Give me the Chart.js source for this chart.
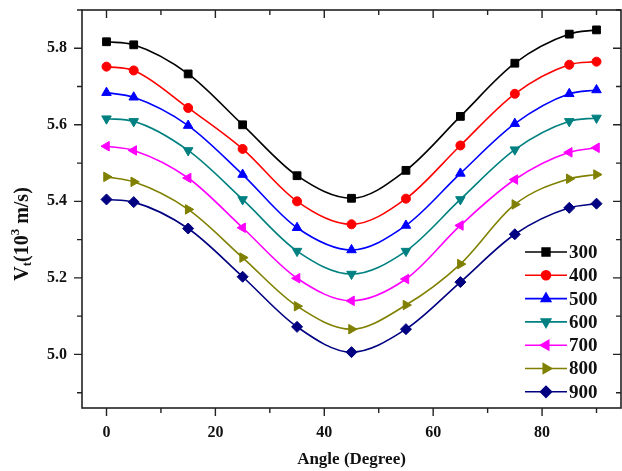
<!DOCTYPE html>
<html>
<head>
<meta charset="utf-8">
<script src="https://cdn.jsdelivr.net/npm/chart.js@4"></script>
<style>
  html, body { margin: 0; padding: 0; background: #fff; overflow: hidden; }
  #wrap { width: 622px; height: 471px; position: relative; }
  canvas { display: block; }
</style>
</head>
<body>
<div id="wrap"><canvas id="chart"></canvas></div>
<script>
// angle of the points (degree)
const angles = [0, 5, 15, 25, 35, 45, 55, 65, 75, 85, 90];
const temps = ["300", "400", "500", "600", "700", "800", "900"];

// Vt values (10^3 m/s), one array for each temperature
const v300 = [5.817, 5.809, 5.733, 5.600, 5.467, 5.408, 5.481, 5.622, 5.761, 5.837, 5.848];
const v400 = [5.752, 5.742, 5.644, 5.537, 5.400, 5.340, 5.407, 5.546, 5.681, 5.757, 5.765];
const v500 = [5.684, 5.672, 5.598, 5.470, 5.331, 5.273, 5.337, 5.473, 5.603, 5.681, 5.691];
const v600 = [5.616, 5.609, 5.533, 5.405, 5.270, 5.210, 5.270, 5.405, 5.535, 5.609, 5.618];
const v700 = [5.544, 5.533, 5.461, 5.331, 5.199, 5.140, 5.197, 5.337, 5.457, 5.528, 5.540];
const v800 = [5.464, 5.451, 5.379, 5.253, 5.126, 5.066, 5.129, 5.236, 5.392, 5.459, 5.470];
const v900 = [5.405, 5.398, 5.329, 5.203, 5.072, 5.006, 5.066, 5.189, 5.314, 5.383, 5.394];
const allValues = [v300, v400, v500, v600, v700, v800, v900];

// tick values
const xMajor = [0, 20, 40, 60, 80];
const xMinor = [10, 30, 50, 70, 90];
const yMajor = [5.0, 5.2, 5.4, 5.6, 5.8];
const yMinor = [4.9, 5.1, 5.3, 5.5, 5.7, 5.9];

const colors = ["#000000", "#ff0000", "#0000ff", "#008080", "#ff00ff", "#808000", "#000080"];
const styles = [
  { pointStyle: "rect", rotation: 0, radius: 5.5 },
  { pointStyle: "circle", rotation: 0, radius: 4.5 },
  { pointStyle: "triangle", rotation: 0, radius: 5.5 },
  { pointStyle: "triangle", rotation: 180, radius: 5.5 },
  { pointStyle: "triangle", rotation: -90, radius: 5.5 },
  { pointStyle: "triangle", rotation: 90, radius: 5.5 },
  { pointStyle: "rectRot", rotation: 0, radius: 5.5 }
];
const serif = "'Liberation Serif', 'Times New Roman', serif";

const datasets = temps.map((t, i) => ({
  label: t,
  data: angles.map((a, j) => ({ x: a, y: allValues[i][j] })),
  borderColor: colors[i],
  backgroundColor: colors[i],
  borderWidth: 1.6,
  pointStyle: styles[i].pointStyle,
  pointRotation: styles[i].rotation,
  pointRadius: styles[i].radius,
  pointBorderWidth: 1,
  cubicInterpolationMode: "monotone",
  fill: false
}));

function makeTicks(major, minor){
  return [...major, ...minor].sort((a, b) => a - b).map(v => ({ value: v, major: major.includes(v) }));
}

// frame + Origin style ticks: outward on left/bottom, inward on top/right
const framePlugin = {
  id: "frame",
  afterDraw(chart){
    const ctx = chart.ctx;
    const {left, right, top, bottom} = chart.chartArea;
    const xs = chart.scales.x, ys = chart.scales.y;
    ctx.save();
    ctx.strokeStyle = "#222";
    ctx.lineWidth = 1.6;
    ctx.strokeRect(left, top, right - left, bottom - top);
    ctx.lineWidth = 1.4;
    ctx.beginPath();
    makeTicks(xMajor, xMinor).forEach(t => {
      const px = xs.getPixelForValue(t.value);
      const len = t.major ? 8 : 5;
      ctx.moveTo(px, bottom); ctx.lineTo(px, bottom + len);
      ctx.moveTo(px, top); ctx.lineTo(px, top + len);
    });
    makeTicks(yMajor, yMinor).forEach(t => {
      const py = ys.getPixelForValue(t.value);
      const len = t.major ? 8 : 5;
      ctx.moveTo(left, py); ctx.lineTo(left - len, py);
      ctx.moveTo(right, py); ctx.lineTo(right - len, py);
    });
    ctx.stroke();
    ctx.restore();
  }
};

// y title with subscript and superscript
const yTitlePlugin = {
  id: "yTitle",
  afterDraw(chart){
    const ctx = chart.ctx;
    const parts = [
      { text: "V", size: 20, dy: 0 },
      { text: "t", size: 13, dy: 5 },
      { text: "(10", size: 20, dy: 0 },
      { text: "3", size: 13, dy: -7 },
      { text: " m/s)", size: 20, dy: 0 }
    ];
    ctx.save();
    ctx.translate(23, 234);
    ctx.rotate(-Math.PI / 2);
    ctx.fillStyle = "#111";
    ctx.textBaseline = "middle";
    let w = 0;
    parts.forEach(p => { ctx.font = "bold " + p.size + "px " + serif; p.w = ctx.measureText(p.text).width; w += p.w; });
    let x = -w / 2;
    parts.forEach(p => {
      ctx.font = "bold " + p.size + "px " + serif;
      ctx.fillText(p.text, x, p.dy);
      x += p.w;
    });
    ctx.restore();
  }
};

// legend drawn as line + marker + label
const legendPlugin = {
  id: "lineLegend",
  afterDraw(chart){
    const ctx = chart.ctx;
    ctx.save();
    chart.data.datasets.forEach((ds, i) => {
      const y = 252 + i * 23.3;
      ctx.strokeStyle = ds.borderColor;
      ctx.lineWidth = 1.6;
      ctx.beginPath();
      ctx.moveTo(525, y); ctx.lineTo(567, y);
      ctx.stroke();
      ctx.fillStyle = ds.backgroundColor;
      Chart.helpers.drawPoint(ctx, {
        pointStyle: ds.pointStyle, rotation: ds.pointRotation,
        radius: ds.pointRadius, borderWidth: 1
      }, 546, y);
      ctx.fillStyle = "#111";
      ctx.font = "bold 19px " + serif;
      ctx.textBaseline = "middle";
      ctx.fillText(ds.label, 569, y + 1);
    });
    ctx.restore();
  }
};

new Chart(document.getElementById("chart"), {
  type: "line",
  data: { datasets },
  plugins: [framePlugin, yTitlePlugin, legendPlugin],
  options: {
    responsive: true,
    maintainAspectRatio: false,
    animation: false,
    layout: { autoPadding: false, padding: { left: 0, top: 10, right: 1, bottom: 0 } },
    plugins: { legend: { display: false }, tooltip: { enabled: false } },
    scales: {
      x: {
        type: "linear",
        min: -4.5,
        max: 94.5,
        afterBuildTicks: s => { s.ticks = makeTicks(xMajor, xMinor); },
        afterFit: s => { s.height = 63; s.paddingLeft = 0; s.paddingRight = 0; },
        grid: { display: false, drawTicks: false },
        border: { display: false },
        ticks: {
          autoSkip: false, maxRotation: 0, padding: 15, color: "#111",
          font: { family: serif, size: 16, weight: "bold" },
          callback: v => xMajor.includes(v) ? String(v) : ""
        },
        title: {
          display: true, text: "Angle (Degree)", color: "#111",
          font: { family: serif, size: 17, weight: "bold" },
          padding: { top: 0, bottom: 1 }
        }
      },
      y: {
        type: "linear",
        min: 4.86,
        max: 5.9,
        afterBuildTicks: s => { s.ticks = makeTicks(yMajor, yMinor); },
        afterFit: s => { s.width = 82; s.paddingTop = 0; s.paddingBottom = 0; },
        grid: { display: false, drawTicks: false },
        border: { display: false },
        ticks: {
          autoSkip: false, padding: 15, color: "#111",
          font: { family: serif, size: 16, weight: "bold" },
          callback: v => yMajor.some(m => Math.abs(m - v) < 1e-9) ? v.toFixed(1) : ""
        }
      }
    }
  }
});
</script>
</body>
</html>
